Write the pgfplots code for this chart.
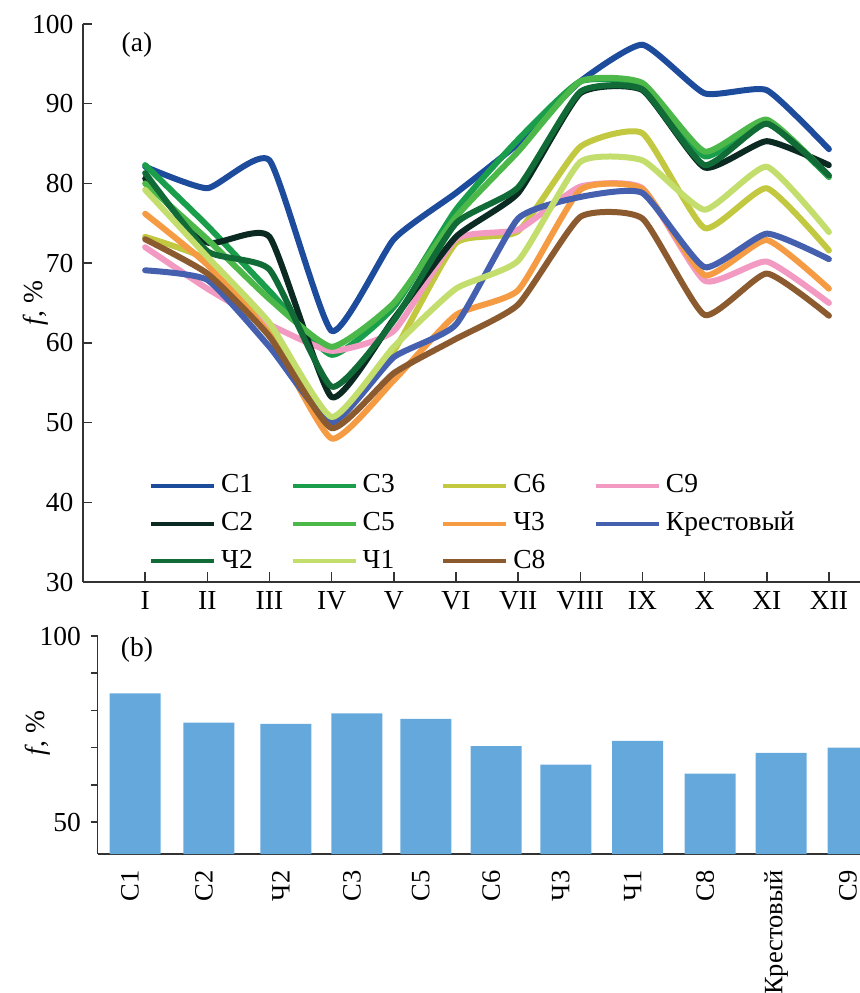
\documentclass[border=0pt]{standalone}
\usepackage{fontspec}
\setmainfont{Liberation Serif}
\usepackage{pgfplots}
\usepackage{pgfplotstable}
\pgfplotsset{compat=1.18}

\definecolor{cCa}{HTML}{1E4C9C}
\definecolor{cCb}{HTML}{0B2A22}
\definecolor{cChb}{HTML}{106B36}
\definecolor{cCc}{HTML}{1B9E4B}
\definecolor{cCe}{HTML}{4DB84A}
\definecolor{cCf}{HTML}{C2C941}
\definecolor{cChc}{HTML}{F59B43}
\definecolor{cCha}{HTML}{C3DE6C}
\definecolor{cCh}{HTML}{8B5A2E}
\definecolor{cCi}{HTML}{F29AC2}
\definecolor{cKr}{HTML}{4460AE}
\definecolor{cBar}{HTML}{65A9DC}
\definecolor{axgray}{HTML}{333333}

\pgfplotstableread{
m c1 c2 ch2 c3 c5 c6 ch3 ch1 c8 c9 kr
1 82.1 80.6 81.3 82.3 80.0 73.3 76.2 79.2 73.0 72.0 69.1
2 79.4 72.6 71.5 74.7 73.0 70.4 69.8 70.8 68.7 66.8 67.9
3 82.9 73.3 69.2 66.5 65.5 62.0 61.0 62.5 60.8 62.3 59.5
4 61.5 53.2 54.5 58.5 59.5 50.5 48.0 50.7 49.3 59.0 50.0
5 73.0 63.0 62.8 64.5 65.0 59.0 55.3 59.5 56.2 61.5 58.2
6 78.8 73.3 75.0 76.7 75.8 72.5 63.5 66.8 60.5 73.0 62.3
7 85.0 78.8 79.5 85.5 84.0 74.0 66.6 70.3 64.8 74.2 75.6
8 92.8 91.3 91.5 92.8 92.8 84.6 79.2 82.7 75.8 79.6 78.3
9 97.4 91.7 91.8 92.3 92.6 86.3 79.3 82.9 75.6 79.4 78.8
10 91.3 82.0 82.3 83.4 84.0 74.4 68.5 76.7 63.5 67.8 69.5
11 91.7 85.3 87.5 87.6 88.0 79.4 72.9 82.1 68.7 70.2 73.7
12 84.3 82.3 81.0 80.8 80.9 71.6 66.8 73.9 63.4 65.0 70.5
}\monthly

\pgfplotstableread{
x v
0 84.6
1.03 76.7
2.10 76.4
3.09 79.2
4.05 77.7
5.03 70.4
6.00 65.4
7.00 71.8
8.01 63.0
9.00 68.6
10.00 70.0
}\annual

\begin{document}
\fontsize{11pt}{13pt}\selectfont
\begin{tikzpicture}
\pgfplotsset{
  common/.style={
    scale only axis,
    anchor=south west,
    axis lines*=left,
    axis line style={line width=0.6pt, axgray},
    tick style={line width=0.6pt, axgray},
    /pgf/number format/assume math mode=true,
    tick label style={font=\fontsize{11pt}{13pt}\selectfont},
    label style={font=\fontsize{11pt}{13pt}\selectfont},
  }
}
\begin{axis}[common,
  at={(33.2pt,164.4pt)},
  width=310.8pt, height=223.2pt,
  xmin=0, xmax=12.5, ymin=30, ymax=100,
  xtick={1,...,12},
  xticklabels={I,II,III,IV,V,VI,VII,VIII,IX,X,XI,XII},
  ytick={30,40,...,100},
  tick align=inside, major tick length=3.8pt,
  ylabel={\textit{f}, \%},
  ylabel style={at={(axis description cs:-0.0605,0.5)}, anchor=center, rotate=0},
  every axis plot/.append style={line width=2.4pt, smooth, tension=0.3, line cap=round, line join=round},
  legend columns=4,
  legend cell align=left,
  legend style={draw=none, fill=none, inner sep=0pt,
    at={(axis description cs:0.0845,0.2025)}, anchor=north west,
    font=\fontsize{11pt}{13pt}\selectfont,
    /tikz/column 2/.style={column sep=13pt},
    /tikz/column 4/.style={column sep=16.6pt},
    /tikz/column 6/.style={column sep=17.4pt},
    row sep=2.1pt},
  legend image code/.code={\draw[#1, line width=1.6pt, line cap=butt] (0pt,0pt) -- (25.2pt,0pt);},
]
\addplot[cCa] table[x=m, y=c1] {\monthly};
\addlegendentry{С1}
\addplot[cCc] table[x=m, y=c3] {\monthly};
\addlegendentry{С3}
\addplot[cCf] table[x=m, y=c6] {\monthly};
\addlegendentry{С6}
\addplot[cCi] table[x=m, y=c9] {\monthly};
\addlegendentry{С9}
\addplot[cCb] table[x=m, y=c2] {\monthly};
\addlegendentry{С2}
\addplot[cCe] table[x=m, y=c5] {\monthly};
\addlegendentry{С5}
\addplot[cChc] table[x=m, y=ch3] {\monthly};
\addlegendentry{Ч3}
\addplot[cKr] table[x=m, y=kr] {\monthly};
\addlegendentry{Крестовый}
\addplot[cChb] table[x=m, y=ch2] {\monthly};
\addlegendentry{Ч2}
\addplot[cCha] table[x=m, y=ch1] {\monthly};
\addlegendentry{Ч1}
\addplot[cCh] table[x=m, y=c8] {\monthly};
\addlegendentry{С8}
\node at (axis description cs:0.0695,0.962) {(a)};
\end{axis}

\begin{axis}[common,
  at={(39.04pt,55.6pt)},
  width=304.96pt, height=87.2pt,
  xmin=-0.521, xmax=10.097, ymin=41.4, ymax=100,
  xtick=data,
  xticklabels={С1,С2,Ч2,С3,С5,С6,Ч3,Ч1,С8,Крестовый,С9},
  xticklabel style={rotate=90, anchor=east, yshift=2pt, font=\fontsize{10.6pt}{12pt}\selectfont},
  x tick style={draw=none},
  ytick={50,60,70,80,90,100},
  yticklabels={50,,,,,100},
  tick align=outside, major tick length=2.8pt,
  ylabel={\textit{f}, \%},
  ylabel style={at={(axis description cs:-0.078,0.555)}, anchor=center},
]
\addplot[ybar, bar width=20.4pt, fill=cBar, draw=none] table[x=x, y=v] {\annual};
\node at (axis description cs:0.0517,0.936) {(b)};
\end{axis}
\pgfresetboundingbox
\path[use as bounding box] (0,0) rectangle (344pt,397.2pt);
\end{tikzpicture}
\end{document}
